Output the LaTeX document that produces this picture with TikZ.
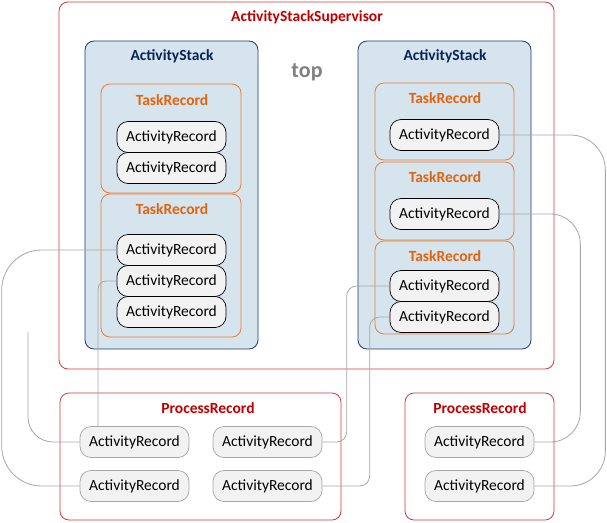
\documentclass[tikz,border=0pt]{standalone}
\usepackage{fontspec}
\setmainfont{Carlito}
\usetikzlibrary{positioning}
\definecolor{supred}{HTML}{C00000}
\definecolor{supline}{HTML}{D23A3A}
\definecolor{stackblue}{HTML}{1F3A6E}
\definecolor{stacktext}{HTML}{0A2257}
\definecolor{stackfill}{HTML}{D6E4EE}
\definecolor{taskline}{HTML}{ED7D31}
\definecolor{tasktext}{HTML}{E2640C}
\definecolor{linkgray}{HTML}{A6A6A6}
\definecolor{recfill}{HTML}{F2F2F2}

\tikzset{
  box/.style={draw, rounded corners=9pt, inner sep=0pt, line width=0.8pt},
  supbox/.style={box, draw=supline},
  stackbox/.style={box, draw=stackblue, fill=stackfill},
  taskbox/.style={box, draw=taskline},
  rec/.style={draw=black, fill=recfill, rounded corners=11pt, line width=0.7pt,
    minimum width=109pt, minimum height=31pt, inner sep=0pt,
    font=\fontsize{15.5}{17}\selectfont},
  procrec/.style={rec, draw=linkgray},
  title/.style={font=\bfseries\fontsize{15.5}{17}\selectfont},
  link/.style={draw=linkgray, line width=0.8pt}
}

\begin{document}
\begin{tikzpicture}[x=1pt, y=-1pt]
  \useasboundingbox (0,0) rectangle (607,522);

  % containers
  \node[supbox, minimum width=495pt, minimum height=367pt] (sup) at (306.5,185.5) {};
  \node[stackbox, minimum width=173pt, minimum height=308pt] (stackL) at (171.5,195) {};
  \node[stackbox, minimum width=173pt, minimum height=308pt] (stackR) at (444.5,195) {};
  \node[taskbox, minimum width=140pt, minimum height=109pt] (taskL1) at (171,138.5) {};
  \node[taskbox, minimum width=140pt, minimum height=143pt] (taskL2) at (171,265.5) {};
  \node[taskbox, minimum width=139pt, minimum height=77pt] (taskR1) at (444.5,121.5) {};
  \node[taskbox, minimum width=139pt, minimum height=78pt] (taskR2) at (444.5,201) {};
  \node[taskbox, minimum width=139pt, minimum height=93pt] (taskR3) at (444.5,287.5) {};
  \node[supbox, minimum width=281pt, minimum height=127pt] (procL) at (200.5,456.5) {};
  \node[supbox, minimum width=149pt, minimum height=127pt] (procR) at (479.5,456.5) {};

  % titles
  \node[title, text=supred] (supT) at (307,17) {ActivityStackSupervisor};
  \node[title, text=stacktext] (stackLT) at (172,56) {ActivityStack};
  \node[title, text=stacktext] (stackRT) at (445,56) {ActivityStack};
  \node[font=\bfseries\fontsize{22}{24}\selectfont, text=gray] (top) at (307,72) {top};
  \node[title, text=tasktext] (taskL1T) at (172,100) {TaskRecord};
  \node[title, text=tasktext] (taskL2T) at (172,209) {TaskRecord};
  \node[title, text=tasktext] (taskR1T) at (445,98) {TaskRecord};
  \node[title, text=tasktext] (taskR2T) at (445,177) {TaskRecord};
  \node[title, text=tasktext] (taskR3T) at (445,256) {TaskRecord};
  \node[title, text=supred] (procLT) at (208,408) {ProcessRecord};
  \node[title, text=supred] (procRT) at (480,408) {ProcessRecord};

  % activity records
  \node[rec] (arL1) at (171.5,137) {ActivityRecord};
  \node[rec] (arL2) at (171.5,168) {ActivityRecord};
  \node[rec] (arL3) at (171.5,250) {ActivityRecord};
  \node[rec] (arL4) at (171.5,281) {ActivityRecord};
  \node[rec] (arL5) at (171.5,312) {ActivityRecord};
  \node[rec] (arR1) at (444.5,135) {ActivityRecord};
  \node[rec] (arR2) at (444.5,214) {ActivityRecord};
  \node[rec] (arR3) at (444.5,286) {ActivityRecord};
  \node[rec] (arR4) at (444.5,317) {ActivityRecord};
  \node[procrec] (pL1) at (134.5,442) {ActivityRecord};
  \node[procrec] (pL2) at (134.5,486) {ActivityRecord};
  \node[procrec] (pL3) at (267.5,442) {ActivityRecord};
  \node[procrec] (pL4) at (267.5,486) {ActivityRecord};
  \node[procrec] (pR1) at (479.5,442) {ActivityRecord};
  \node[procrec] (pR2) at (479.5,486) {ActivityRecord};

  % links
  \coordinate (loose) at (28,332);
  \draw[link, rounded corners=40pt] (arL3.west) -- ++(-115,0) |- (pL2.west);
  \draw[link, rounded corners=8pt] (arL4.west) -| ([xshift=-36.5pt]pL1.north);
  \draw[link, rounded corners=25pt] (loose) |- (pL1.west);
  \draw[link, rounded corners=10pt] (arR3.west) -- ++(-43,0) |- (pL3.east);
  \draw[link, rounded corners=10pt] (arR4.west) -- ++(-20,0) |- (pL4.east);
  \draw[link, rounded corners=35pt] (arR1.east) -- ++(106,0) |- (pR2.east);
  \draw[link, rounded corners=30pt] (arR2.east) -- ++(81,0) |- (pR1.east);
\end{tikzpicture}
\end{document}
